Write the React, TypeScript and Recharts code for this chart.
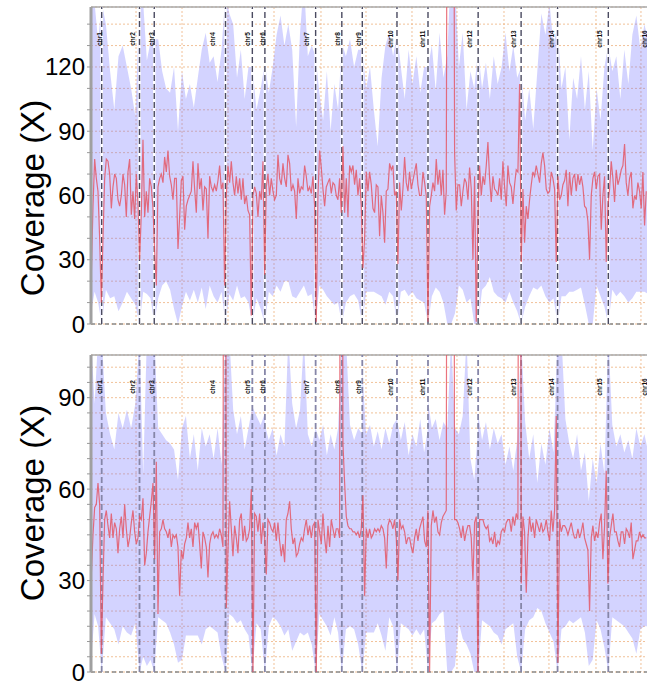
import React from "react";
import { ComposedChart, Area, Line, XAxis, YAxis, CartesianGrid, ReferenceLine } from "recharts";

// yeast chromosomes, lengths in kb
const CHROMS = ["chr1", "chr2", "chr3", "chr4", "chr5", "chr6", "chr7", "chr8", "chr9", "chr10", "chr11", "chr12", "chr13", "chr14", "chr15", "chr16"];
const CHROM_LENGTHS = [230, 813, 317, 1532, 577, 270, 1091, 563, 440, 746, 667, 1078, 924, 784, 1091, 948];
const BINS_PER_CHROM = [4, 10, 5, 19, 8, 4, 14, 8, 6, 10, 9, 14, 12, 10, 14, 12];
const GRID_X = [968, 1957, 2946, 3935, 4945, 5913, 6902, 7869, 8880, 9847, 10858, 11825];
const X_MAX = 12200;

// mean coverage traces, sampled every ~36 kb from the genome start
const TRACE_START = 7;
const TRACE_STEP = 35.83;

const TOP_MEAN = [
  23, 55, 77, 68, 62, 40, 10, 40, 68, 77,
  76, 70, 54, 64, 70, 68, 58, 55, 60, 70,
  65, 50, 71, 77, 51, 62, 49, 70, 56, 30,
  52, 86, 50, 62, 52, 68, 64, 54, 34, 18,
  64, 68, 70, 66, 78, 71, 81, 69, 65, 58,
  68, 68, 35, 50, 67, 69, 44, 55, 58, 60,
  62, 76, 63, 52, 75, 63, 68, 53, 64, 63,
  40, 69, 64, 62, 65, 62, 67, 74, 63, 66,
  18, 60, 74, 66, 76, 66, 60, 69, 61, 68,
  58, 68, 56, 60, 53, 51, 4, 60, 64, 61,
  50, 62, 58, 76, 23, 64, 70, 60, 68, 62,
  58, 60, 79, 68, 65, 75, 68, 64, 79, 75,
  62, 65, 62, 49, 68, 61, 64, 63, 74, 69,
  62, 64, 61, 69, 55, 1, 60, 81, 73, 63,
  55, 64, 66, 68, 61, 66, 65, 60, 58, 68,
  52, 83, 52, 68, 50, 74, 71, 74, 65, 72,
  60, 68, 55, 26, 40,
  71, 62, 71, 65, 54, 52, 65, 64, 41, 60,
  52, 38, 62, 63, 75, 72, 74, 60, 62, 28,
  66, 53, 63, 78, 66, 62, 71, 63, 67, 71,
  75, 65, 60, 60, 71, 66, 60, 1, 55, 60,
  66, 62, 77, 65, 72, 60, 72, 51, 62, 400,
  400, 400, 400, 80, 53, 65, 65, 55, 62, 68,
  66, 58, 73, 63, 30, 69, 1, 50, 74, 60,
  69, 65, 74, 85, 68, 57, 69, 63, 62, 60,
  68, 58, 76, 64, 55, 74, 66, 64, 56, 65,
  72, 71, 112, 29, 63, 38, 55, 49, 58, 65,
  71, 69, 74, 70, 66, 75, 80, 74, 63, 61,
  62, 71, 68, 63, 29, 69, 58, 60, 65, 67,
  72, 55, 71, 60, 68, 70, 62, 70, 65, 69,
  64, 55, 54, 48, 30, 60, 68, 71, 63, 69,
  70, 44, 60, 69, 29, 55, 63, 76, 68, 57,
  72, 65, 68, 72, 74, 84, 66, 60, 68, 71,
  54, 60, 58, 66, 62, 54, 71, 46, 62,
];

const BOTTOM_MEAN = [
  32, 45, 54, 55, 62, 55, 6, 30, 50, 53,
  48, 44, 52, 44, 49, 47, 39, 47, 51, 44,
  55, 47, 41, 44, 49, 53, 46, 42, 44, 51,
  50, 57, 35, 39, 46, 51, 56, 62, 37, 69,
  19, 46, 47, 50, 47, 46, 44, 47, 41, 45,
  44, 45, 41, 25, 40, 37, 42, 44, 49, 44,
  47, 41, 49, 47, 49, 42, 34, 46, 44, 41,
  31, 42, 45, 46, 44, 45, 44, 47, 45, 41,
  400, 21, 40, 56, 47, 38, 48, 44, 39, 50,
  52, 43, 48, 43, 44, 47, 60, 0, 52, 51,
  46, 52, 42, 49, 44, 32, 50, 49, 47, 46,
  49, 43, 49, 43, 38, 42, 36, 50, 52, 56,
  47, 42, 44, 38, 39, 42, 44, 43, 47, 50,
  45, 48, 44, 48, 49, 0, 50, 46, 42, 52,
  44, 39, 48, 41, 50, 47, 44, 47, 47, 44,
  400, 75, 62, 51, 48, 47, 47, 46, 46, 45,
  46, 44, 47, 58, 25,
  47, 44, 47, 44, 45, 47, 46, 47, 46, 48,
  47, 44, 34, 48, 50, 49, 47, 50, 44, 30,
  50, 47, 48, 46, 42, 44, 44, 41, 39, 44,
  47, 43, 47, 49, 51, 43, 41, 53, 0, 48,
  53, 49, 51, 46, 45, 49, 51, 52, 53, 400,
  400, 400, 400, 50, 50, 49, 47, 44, 48, 43,
  46, 48, 48, 44, 30, 49, 51, 0, 50, 50,
  50, 48, 47, 48, 43, 44, 42, 46, 41, 43,
  42, 46, 47, 46, 49, 50, 50, 46, 51, 48,
  52, 50, 400, 29, 51, 46, 26, 44, 51, 46,
  49, 44, 50, 48, 46, 49, 46, 47, 50, 46,
  43, 53, 46, 53, 84, 3, 50, 46, 48, 48,
  47, 45, 47, 49, 46, 44, 44, 47, 44, 46,
  49, 44, 42, 40, 20, 44, 48, 43, 46, 44,
  49, 52, 37, 48, 66, 29, 44, 48, 52, 46,
  46, 43, 41, 46, 46, 42, 47, 46, 44, 49,
  37, 40, 43, 43, 46, 44, 45, 44, 44,
];

// min / max coverage band, per chromosome bins
const TOP_LOW = [
  [5, 15, 10, 0],
  [0, 16, 12, 13, 6, 10, 15, 12, 9, 0],
  [0, 15, 14, 12, 0],
  [0, 12, 18, 20, 16, 7, 0, 8, 15, 11, 16, 10, 17, 7, 18, 13, 10, 15, 0],
  [0, 14, 11, 18, 12, 13, 10, 0],
  [0, 12, 7, 0],
  [0, 15, 13, 18, 15, 20, 20, 13, 12, 15, 18, 13, 14, 0],
  [0, 18, 16, 13, 11, 9, 10, 0],
  [0, 10, 13, 14, 11, 0],
  [0, 15, 15, 15, 14, 13, 9, 15, 13, 0],
  [0, 15, 16, 13, 15, 12, 11, 10, 0],
  [0, 13, 17, 15, 10, 0, 0, 5, 18, 16, 10, 12, 0, 0],
  [0, 16, 18, 22, 15, 13, 12, 10, 15, 10, 6, 0],
  [0, 8, 13, 17, 16, 18, 13, 10, 12, 0],
  [0, 13, 13, 15, 15, 16, 17, 9, 0, 0, 18, 13, 8, 0],
  [0, 16, 13, 15, 13, 10, 12, 15, 15, 15, 14, 0],
];
const TOP_HIGH = [
  [160, 150, 132, 150],
  [150, 140, 118, 100, 125, 130, 120, 110, 97, 150],
  [155, 150, 123, 132, 133],
  [133, 133, 118, 110, 108, 120, 90, 118, 105, 112, 101, 115, 128, 136, 122, 125, 113, 128, 155],
  [155, 145, 140, 115, 128, 105, 120, 120],
  [120, 100, 110, 122],
  [122, 108, 120, 135, 144, 130, 140, 128, 92, 136, 160, 125, 130, 125],
  [125, 108, 95, 118, 90, 112, 100, 131],
  [131, 125, 133, 120, 128, 128],
  [128, 110, 120, 100, 83, 115, 130, 136, 125, 136],
  [136, 120, 105, 128, 112, 125, 108, 120, 120],
  [120, 130, 109, 136, 115, 125, 170, 160, 120, 136, 100, 118, 110, 128],
  [128, 110, 122, 105, 125, 112, 120, 136, 118, 130, 115, 120],
  [120, 95, 110, 91, 118, 145, 135, 150, 130, 140],
  [140, 110, 120, 86, 115, 105, 125, 100, 118, 81, 110, 95, 120, 130],
  [130, 118, 125, 105, 128, 112, 135, 144, 128, 140, 132, 150],
];
const BOTTOM_LOW = [
  [3, 19, 15, 0],
  [0, 18, 16, 14, 9, 15, 13, 12, 16, 0],
  [0, 5, 2, 4, 0],
  [0, 18, 17, 16, 13, 9, 3, 4, 12, 12, 12, 12, 9, 14, 15, 14, 13, 5, 0],
  [0, 19, 18, 16, 17, 14, 12, 0],
  [0, 16, 14, 0],
  [0, 15, 18, 17, 15, 12, 14, 7, 10, 13, 12, 13, 9, 0],
  [0, 19, 17, 15, 12, 18, 13, 0],
  [0, 14, 15, 14, 9, 0],
  [0, 13, 13, 13, 16, 12, 7, 18, 15, 0],
  [0, 16, 15, 14, 12, 14, 12, 14, 0],
  [0, 16, 17, 19, 20, 0, 0, 2, 16, 11, 9, 6, 0, 0],
  [0, 17, 16, 15, 13, 12, 9, 14, 15, 16, 5, 0],
  [0, 14, 17, 18, 21, 20, 16, 13, 10, 0],
  [0, 14, 15, 17, 16, 17, 18, 13, 2, 4, 17, 14, 8, 0],
  [0, 18, 17, 16, 15, 13, 11, 6, 14, 15, 15, 0],
];
const BOTTOM_HIGH = [
  [110, 88, 110, 110],
  [110, 85, 78, 73, 85, 80, 86, 80, 88, 110],
  [110, 65, 110, 105, 110],
  [110, 80, 78, 76, 75, 73, 63, 80, 84, 70, 78, 66, 80, 74, 78, 70, 80, 68, 110],
  [110, 110, 86, 78, 84, 73, 80, 87],
  [87, 84, 81, 85],
  [81, 76, 80, 71, 78, 74, 110, 88, 80, 86, 110, 78, 74, 80],
  [80, 76, 81, 71, 78, 73, 80, 110],
  [110, 110, 81, 76, 80, 78],
  [99, 78, 81, 74, 79, 73, 80, 75, 81, 83],
  [83, 76, 82, 71, 78, 74, 83, 72, 80],
  [89, 80, 83, 76, 82, 80, 110, 80, 78, 84, 110, 70, 63, 80],
  [85, 76, 82, 73, 80, 75, 78, 68, 74, 66, 76, 110],
  [110, 82, 70, 78, 62, 75, 68, 80, 72, 110],
  [110, 110, 83, 75, 70, 78, 66, 72, 56, 70, 62, 75, 65, 110],
  [110, 81, 74, 78, 72, 76, 70, 80, 74, 78, 72, 80],
];

const FONT = "'Liberation Sans', Arial, sans-serif";

const CHROM_STARTS = CHROM_LENGTHS.reduce<number[]>((acc, len, i) => {
  acc.push(i === 0 ? 0 : acc[i - 1] + CHROM_LENGTHS[i - 1]);
  return acc;
}, []);
const CHROM_ENDS = CHROM_STARTS.map((s, i) => s + CHROM_LENGTHS[i]);

function bandRows(low: number[][], high: number[][]) {
  const rows: { pos: number; band: [number, number] }[] = [];
  CHROMS.forEach((_, c) => {
    const n = BINS_PER_CHROM[c];
    for (let j = 0; j < n; j++) {
      rows.push({
        pos: CHROM_STARTS[c] + (j * CHROM_LENGTHS[c]) / (n - 1),
        band: [low[c][j], high[c][j]],
      });
    }
  });
  return rows;
}

const traceRows = (vals: number[]) => vals.map((v, i) => ({ pos: TRACE_START + i * TRACE_STEP, mean: v }));

interface PanelProps {
  band: { pos: number; band: [number, number] }[];
  trace: { pos: number; mean: number }[];
  yMax: number;
  tickStep: number;
  marginTop: number;
  height: number;
  titleY: number;
  chromLabelY: number;
  darkDash: boolean;
}

function Panel({ band, trace, yMax, tickStep, marginTop, height, titleY, chromLabelY, darkDash }: PanelProps) {
  const ticks: number[] = [];
  for (let v = 0; v <= yMax; v += tickStep) ticks.push(v);

  return (
    <ComposedChart
      width={680}
      height={height}
      data={band}
      margin={{ top: marginTop, right: 21.6, bottom: height - marginTop - 317, left: 0 }}
    >
      <CartesianGrid stroke="#eeb27e" strokeDasharray="2 2" strokeOpacity={0.8} />
      <XAxis type="number" dataKey="pos" domain={[0, X_MAX]} ticks={GRID_X} allowDataOverflow hide />
      <YAxis
        domain={[0, yMax]}
        ticks={ticks}
        interval={0}
        allowDataOverflow
        width={91}
        tickSize={4}
        tickMargin={2}
        tickFormatter={(v: number) => (v % 30 === 0 ? String(v) : "")}
        tick={{ fontSize: 24, fill: "#000", fontFamily: FONT }}
        tickLine={{ stroke: "#999" }}
        axisLine={{ stroke: "#a0a0a0", strokeWidth: 3 }}
        label={() => (
          <text
            x={32}
            y={titleY}
            transform={`rotate(-90 32 ${titleY})`}
            textAnchor="middle"
            dominantBaseline="central"
            fontSize={33}
            fontFamily={FONT}
            fill="#000"
          >
            Coverage (X)
          </text>
        )}
      />
      <Area type="linear" dataKey="band" stroke="none" fill="#6e6eff" fillOpacity={0.3} isAnimationActive={false} />
      <ReferenceLine y={yMax} stroke="#a8a8a8" strokeWidth={1.5} />
      <ReferenceLine y={0} stroke="#888" strokeDasharray="4 3" strokeWidth={1.5} />
      {darkDash &&
        CHROM_ENDS.map((e) => <ReferenceLine key={"w" + e} x={e} stroke="#ffffff" strokeWidth={2.5} />)}
      {CHROM_ENDS.map((e) => (
        <ReferenceLine
          key={"d" + e}
          x={e}
          stroke={darkDash ? "#4a4a60" : "#8686a8"}
          strokeWidth={darkDash ? 1.4 : 1.8}
          strokeDasharray="6 3"
        />
      ))}
      {CHROMS.map((name, i) => (
        <ReferenceLine
          key={name}
          x={CHROM_STARTS[i] + CHROM_LENGTHS[i] * 0.82}
          stroke="none"
          label={(p: any) => {
            const x = p.viewBox.x;
            return (
              <text
                x={x}
                y={chromLabelY}
                transform={`rotate(-90 ${x} ${chromLabelY})`}
                textAnchor="middle"
                dominantBaseline="central"
                fontSize={6.5}
                fontWeight="bold"
                fontFamily={FONT}
                fill="#111"
              >
                {name}
              </text>
            );
          }}
        />
      ))}
      <Line
        data={trace}
        type="linear"
        dataKey="mean"
        stroke="#e5505e"
        strokeOpacity={0.8}
        strokeWidth={1.2}
        dot={false}
        isAnimationActive={false}
      />
    </ComposedChart>
  );
}

export default function App() {
  return (
    <div
      style={{
        position: "absolute",
        left: 0,
        top: 0,
        width: 647,
        height: 681,
        overflow: "hidden",
        background: "#fff",
      }}
    >
      <div style={{ position: "absolute", left: 0, top: 0 }}>
        <Panel
          band={bandRows(TOP_LOW, TOP_HIGH)}
          trace={traceRows(TOP_MEAN)}
          yMax={148}
          tickStep={10}
          marginTop={7}
          height={340}
          titleY={198}
          chromLabelY={39}
          darkDash
        />
      </div>
      <div style={{ position: "absolute", left: 0, top: 340 }}>
        <Panel
          band={bandRows(BOTTOM_LOW, BOTTOM_HIGH)}
          trace={traceRows(BOTTOM_MEAN)}
          yMax={104}
          tickStep={5}
          marginTop={15}
          height={341}
          titleY={163}
          chromLabelY={47}
          darkDash={false}
        />
      </div>
    </div>
  );
}
